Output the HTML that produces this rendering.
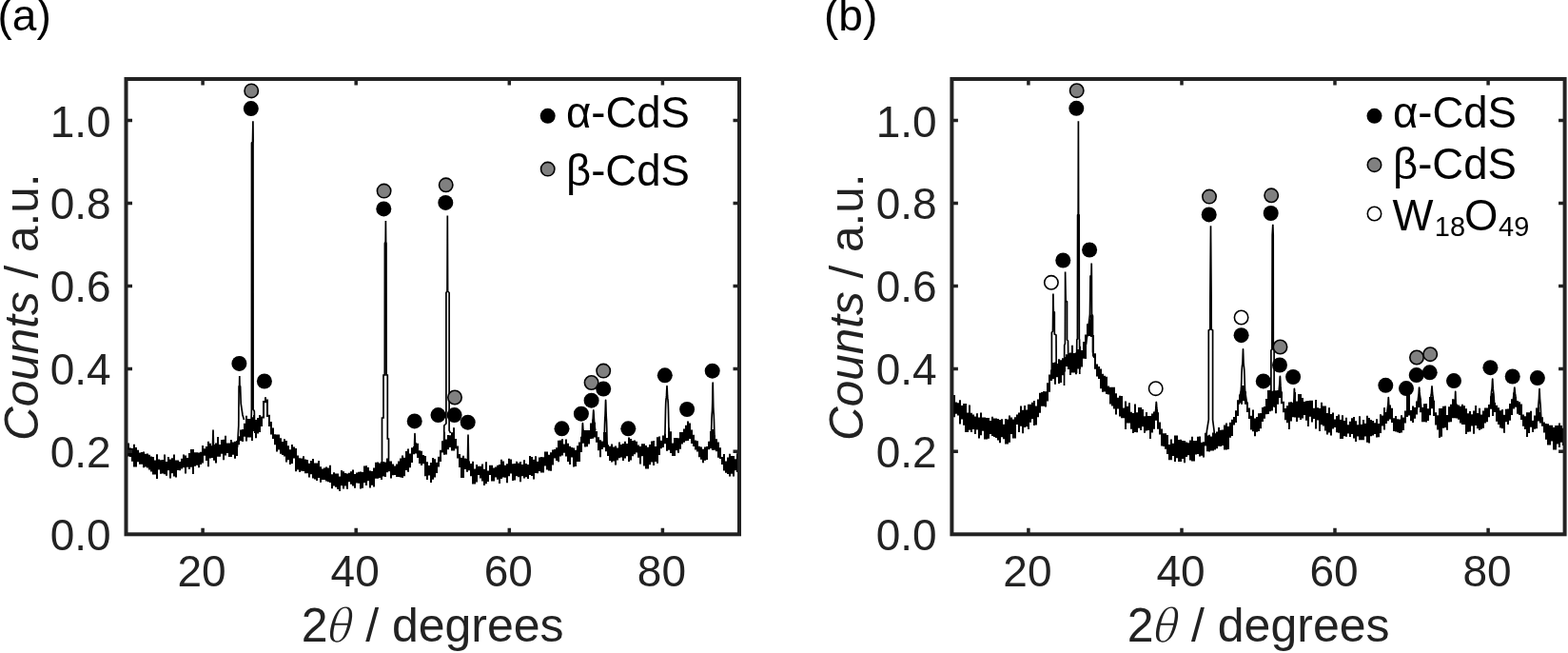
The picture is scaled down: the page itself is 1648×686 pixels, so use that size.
<!DOCTYPE html>
<html><head><meta charset="utf-8"><title>XRD patterns</title>
<style>html,body{margin:0;padding:0;background:#fff;overflow:hidden}svg{display:block}</style>
</head><body>
<svg width="1648" height="686" viewBox="0 0 1648 686">
<rect width="100%" height="100%" fill="#fff"/>
<style>.tk{font-family:"Liberation Sans",Arial,sans-serif;font-size:46px;fill:#222222}.lb{font-family:"Liberation Sans",Arial,sans-serif;font-size:50px;fill:#222222}.ly{font-family:"Liberation Sans",Arial,sans-serif;font-size:49.5px;fill:#222222}.lg{font-family:"Liberation Sans",Arial,sans-serif;font-size:45.5px;fill:#000}.pl{font-family:"Liberation Sans",Arial,sans-serif;font-size:46px;fill:#000}</style>
<path d="M134.0 465.5h2v13.9h-2zM136.0 470.4h2v9.5h-2zM138.0 471.1h2v13.6h-2zM140.0 466.7h2v23.8h-2zM142.0 470.1h2v20.4h-2zM144.0 472.7h2v12.5h-2zM146.0 475.4h2v12.3h-2zM148.0 474.9h2v12.9h-2zM150.0 474.5h2v16.7h-2zM152.0 476.8h2v13.8h-2zM154.0 476.6h2v14.9h-2zM156.0 477.8h2v15.8h-2zM158.0 479.6h2v15.9h-2zM160.0 480.1h2v18.3h-2zM162.0 483.6h2v14.8h-2zM164.0 477.3h2v25.7h-2zM166.0 482.6h2v11.0h-2zM168.0 483.2h2v14.6h-2zM170.0 483.1h2v14.5h-2zM172.0 477.4h2v20.8h-2zM174.0 484.9h2v14.8h-2zM176.0 480.0h2v14.3h-2zM178.0 482.6h2v20.0h-2zM180.0 481.3h2v15.9h-2zM182.0 477.5h2v23.1h-2zM184.0 483.6h2v18.0h-2zM186.0 483.5h2v10.4h-2zM188.0 484.9h2v9.3h-2zM190.0 481.8h2v10.7h-2zM192.0 477.4h2v13.9h-2zM194.0 478.6h2v18.9h-2zM196.0 480.9h2v9.9h-2zM198.0 476.0h2v17.0h-2zM200.0 471.9h2v18.8h-2zM202.0 471.9h2v26.2h-2zM204.0 475.2h2v14.5h-2zM206.0 475.2h2v13.5h-2zM208.0 475.4h2v15.9h-2zM210.0 474.7h2v13.2h-2zM212.0 467.9h2v18.5h-2zM214.0 471.2h2v7.5h-2zM216.0 469.0h2v15.1h-2zM218.0 463.7h2v26.6h-2zM220.0 465.8h2v15.8h-2zM222.0 468.3h2v12.8h-2zM224.0 466.9h2v16.8h-2zM226.0 465.4h2v21.0h-2zM228.0 459.1h2v20.7h-2zM230.0 467.0h2v12.7h-2zM232.0 462.0h2v14.8h-2zM234.0 461.8h2v21.4h-2zM236.0 457.7h2v20.8h-2zM238.0 465.5h2v10.6h-2zM240.0 465.6h2v14.5h-2zM242.0 462.1h2v17.9h-2zM244.0 464.6h2v13.1h-2zM246.0 463.7h2v18.1h-2zM248.0 462.9h2v16.1h-2zM250.0 458.2h2v9.0h-2zM252.0 451.5h2v11.8h-2zM254.0 451.0h2v12.9h-2zM256.0 444.8h2v13.9h-2zM258.0 436.8h2v26.7h-2zM260.0 440.0h2v19.4h-2zM262.0 439.9h2v19.6h-2zM264.0 438.2h2v24.8h-2zM266.0 436.0h2v17.1h-2zM268.0 440.9h2v19.3h-2zM270.0 439.0h2v16.5h-2zM272.0 435.9h2v18.0h-2zM274.0 437.4h2v10.5h-2zM276.0 421.0h2v18.4h-2zM278.0 417.2h2v6.1h-2zM280.0 419.4h2v18.7h-2zM282.0 435.7h2v12.2h-2zM284.0 443.0h2v13.5h-2zM286.0 449.5h2v11.5h-2zM288.0 456.3h2v11.0h-2zM290.0 456.6h2v17.8h-2zM292.0 456.6h2v15.8h-2zM294.0 460.2h2v16.5h-2zM296.0 464.1h2v13.8h-2zM298.0 461.2h2v18.4h-2zM300.0 462.9h2v22.6h-2zM302.0 468.3h2v15.0h-2zM304.0 472.3h2v15.7h-2zM306.0 467.1h2v20.0h-2zM308.0 469.6h2v12.0h-2zM310.0 471.1h2v24.2h-2zM312.0 478.5h2v15.0h-2zM314.0 481.3h2v14.8h-2zM316.0 481.4h2v13.4h-2zM318.0 479.3h2v15.7h-2zM320.0 482.5h2v14.7h-2zM322.0 482.9h2v14.3h-2zM324.0 486.7h2v14.7h-2zM326.0 483.9h2v14.4h-2zM328.0 482.1h2v20.3h-2zM330.0 486.4h2v17.2h-2zM332.0 486.6h2v18.4h-2zM334.0 484.1h2v17.8h-2zM336.0 490.3h2v16.5h-2zM338.0 492.4h2v11.7h-2zM340.0 491.4h2v12.6h-2zM342.0 490.4h2v15.2h-2zM344.0 491.4h2v14.8h-2zM346.0 488.7h2v18.2h-2zM348.0 498.3h2v15.0h-2zM350.0 496.3h2v14.3h-2zM352.0 497.5h2v14.2h-2zM354.0 497.5h2v16.4h-2zM356.0 500.5h2v15.4h-2zM358.0 494.1h2v16.2h-2zM360.0 495.3h2v18.1h-2zM362.0 497.0h2v13.6h-2zM364.0 497.6h2v16.1h-2zM366.0 496.7h2v9.5h-2zM368.0 495.2h2v13.6h-2zM370.0 493.5h2v17.1h-2zM372.0 497.9h2v14.9h-2zM374.0 496.4h2v11.2h-2zM376.0 495.7h2v12.0h-2zM378.0 495.6h2v17.8h-2zM380.0 496.1h2v16.6h-2zM382.0 489.5h2v17.7h-2zM384.0 489.3h2v20.8h-2zM386.0 491.0h2v14.3h-2zM388.0 494.5h2v17.9h-2zM390.0 494.9h2v14.8h-2zM392.0 491.6h2v19.9h-2zM394.0 485.8h2v16.9h-2zM396.0 485.5h2v17.3h-2zM398.0 486.4h2v15.5h-2zM400.0 484.9h2v19.0h-2zM402.0 484.9h2v15.7h-2zM404.0 485.5h2v15.6h-2zM406.0 481.5h2v14.7h-2zM408.0 484.4h2v10.9h-2zM410.0 484.4h2v18.2h-2zM412.0 487.5h2v11.7h-2zM414.0 489.4h2v9.7h-2zM416.0 487.6h2v13.5h-2zM418.0 484.5h2v16.6h-2zM420.0 481.6h2v20.0h-2zM422.0 478.5h2v23.6h-2zM424.0 480.7h2v19.5h-2zM426.0 474.1h2v19.9h-2zM428.0 471.4h2v24.4h-2zM430.0 476.6h2v14.6h-2zM432.0 470.3h2v15.8h-2zM434.0 469.1h2v8.1h-2zM436.0 465.3h2v11.1h-2zM438.0 465.8h2v15.1h-2zM440.0 473.2h2v13.7h-2zM442.0 473.7h2v15.3h-2zM444.0 477.9h2v9.4h-2zM446.0 479.1h2v21.2h-2zM448.0 485.3h2v18.8h-2zM450.0 489.1h2v10.5h-2zM452.0 486.0h2v21.1h-2zM454.0 481.0h2v22.7h-2zM456.0 482.2h2v19.3h-2zM458.0 485.7h2v11.3h-2zM460.0 479.8h2v10.7h-2zM462.0 472.7h2v12.2h-2zM464.0 463.2h2v12.4h-2zM466.0 453.8h2v23.9h-2zM468.0 461.4h2v16.2h-2zM470.0 457.0h2v15.2h-2zM472.0 457.3h2v12.6h-2zM474.0 454.3h2v19.3h-2zM476.0 449.2h2v24.3h-2zM478.0 461.1h2v10.3h-2zM480.0 468.5h2v12.9h-2zM482.0 476.9h2v14.2h-2zM484.0 480.8h2v21.2h-2zM486.0 478.8h2v23.3h-2zM488.0 481.4h2v11.7h-2zM490.0 482.0h2v13.8h-2zM492.0 484.5h2v9.7h-2zM494.0 486.9h2v13.4h-2zM496.0 484.7h2v23.8h-2zM498.0 492.4h2v16.1h-2zM500.0 488.0h2v18.6h-2zM502.0 489.7h2v9.4h-2zM504.0 489.7h2v12.7h-2zM506.0 487.5h2v18.1h-2zM508.0 492.8h2v17.3h-2zM510.0 485.3h2v23.0h-2zM512.0 494.4h2v11.7h-2zM514.0 488.8h2v10.2h-2zM516.0 488.8h2v16.8h-2zM518.0 491.5h2v13.9h-2zM520.0 490.5h2v10.9h-2zM522.0 488.7h2v15.1h-2zM524.0 488.1h2v19.9h-2zM526.0 482.8h2v20.1h-2zM528.0 484.6h2v16.8h-2zM530.0 488.8h2v12.9h-2zM532.0 487.2h2v20.0h-2zM534.0 481.7h2v18.5h-2zM536.0 482.4h2v15.1h-2zM538.0 487.3h2v17.8h-2zM540.0 486.9h2v17.6h-2zM542.0 484.8h2v15.4h-2zM544.0 486.4h2v14.9h-2zM546.0 485.1h2v21.2h-2zM548.0 488.1h2v12.1h-2zM550.0 483.2h2v19.2h-2zM552.0 486.9h2v14.3h-2zM554.0 488.1h2v14.8h-2zM556.0 479.1h2v19.9h-2zM558.0 480.1h2v20.0h-2zM560.0 482.7h2v20.8h-2zM562.0 479.2h2v17.8h-2zM564.0 484.7h2v12.5h-2zM566.0 480.4h2v14.6h-2zM568.0 479.9h2v16.7h-2zM570.0 480.3h2v16.3h-2zM572.0 474.5h2v15.1h-2zM574.0 474.5h2v18.9h-2zM576.0 477.7h2v16.8h-2zM578.0 475.2h2v19.6h-2zM580.0 472.5h2v16.1h-2zM582.0 472.0h2v9.5h-2zM584.0 470.3h2v13.8h-2zM586.0 462.7h2v22.6h-2zM588.0 462.5h2v17.0h-2zM590.0 461.2h2v17.3h-2zM592.0 466.5h2v9.3h-2zM594.0 461.4h2v18.2h-2zM596.0 465.8h2v19.1h-2zM598.0 468.7h2v19.3h-2zM600.0 470.0h2v10.6h-2zM602.0 470.4h2v20.1h-2zM604.0 472.8h2v17.1h-2zM606.0 468.3h2v16.6h-2zM608.0 464.4h2v20.5h-2zM610.0 458.8h2v16.3h-2zM612.0 451.4h2v14.3h-2zM614.0 452.1h2v17.3h-2zM616.0 452.0h2v17.2h-2zM618.0 452.1h2v14.3h-2zM620.0 444.4h2v16.7h-2zM622.0 440.8h2v19.9h-2zM624.0 443.8h2v15.8h-2zM626.0 452.9h2v11.8h-2zM628.0 459.2h2v14.0h-2zM630.0 462.3h2v18.0h-2zM632.0 463.5h2v8.5h-2zM634.0 453.9h2v16.1h-2zM636.0 453.9h2v20.4h-2zM638.0 467.3h2v11.8h-2zM640.0 468.7h2v15.3h-2zM642.0 466.6h2v18.9h-2zM644.0 469.6h2v14.9h-2zM646.0 468.6h2v20.0h-2zM648.0 470.4h2v13.0h-2zM650.0 464.5h2v16.8h-2zM652.0 466.9h2v13.7h-2zM654.0 466.0h2v18.0h-2zM656.0 463.8h2v17.7h-2zM658.0 465.9h2v13.3h-2zM660.0 459.4h2v25.6h-2zM662.0 461.1h2v22.3h-2zM664.0 462.9h2v16.4h-2zM666.0 462.4h2v14.9h-2zM668.0 463.8h2v11.8h-2zM670.0 467.5h2v13.3h-2zM672.0 468.9h2v18.6h-2zM674.0 466.2h2v13.0h-2zM676.0 466.2h2v23.3h-2zM678.0 468.1h2v24.3h-2zM680.0 469.8h2v22.6h-2zM682.0 467.1h2v21.2h-2zM684.0 463.4h2v22.2h-2zM686.0 462.9h2v26.1h-2zM688.0 469.0h2v16.0h-2zM690.0 459.3h2v27.5h-2zM692.0 458.4h2v19.7h-2zM694.0 462.7h2v8.5h-2zM696.0 457.4h2v12.7h-2zM698.0 455.7h2v10.5h-2zM700.0 459.9h2v13.9h-2zM702.0 449.5h2v23.2h-2zM704.0 453.3h2v22.8h-2zM706.0 465.6h2v13.5h-2zM708.0 460.0h2v18.9h-2zM710.0 460.0h2v13.3h-2zM712.0 460.2h2v15.5h-2zM714.0 454.0h2v17.8h-2zM716.0 454.0h2v12.6h-2zM718.0 450.6h2v14.2h-2zM720.0 446.8h2v16.4h-2zM722.0 442.5h2v20.4h-2zM724.0 444.4h2v16.7h-2zM726.0 451.4h2v14.7h-2zM728.0 456.8h2v12.3h-2zM730.0 462.6h2v9.9h-2zM732.0 463.2h2v11.2h-2zM734.0 468.8h2v11.5h-2zM736.0 469.5h2v13.3h-2zM738.0 471.7h2v14.5h-2zM740.0 469.6h2v14.1h-2zM742.0 469.1h2v14.0h-2zM744.0 463.7h2v8.6h-2zM746.0 452.9h2v18.4h-2zM748.0 451.0h2v22.1h-2zM750.0 457.3h2v15.4h-2zM752.0 461.2h2v13.0h-2zM754.0 464.5h2v16.2h-2zM756.0 470.2h2v11.7h-2zM758.0 479.9h2v8.1h-2zM760.0 476.9h2v17.5h-2zM762.0 484.4h2v12.4h-2zM764.0 480.5h2v17.5h-2zM766.0 476.7h2v23.8h-2zM768.0 479.1h2v18.6h-2zM770.0 479.1h2v21.3h-2zM772.0 482.3h2v12.0h-2zM774.0 476.2h2v19.9h-2z" fill="#000"/>
<path d="M223.25 474.6L223.50 470.4L223.75 459.6L224.00 452.0L224.25 459.4L224.50 470.1L224.75 474.1M435.25 474.5L435.50 470.8L435.75 461.8L436.00 455.5L436.25 461.1L436.50 469.4L436.75 472.4M491.25 488.2L491.50 482.7L491.75 467.6L492.00 457.2L492.25 468.4L492.50 484.4L492.75 490.8M611.00 465.7L611.25 463.5L611.50 461.1L611.75 458.0L612.00 452.8L612.25 446.4L612.40 444.6L612.50 445.0L612.75 449.5L613.00 453.7L613.25 455.9L613.50 457.2L613.75 458.4L614.00 459.3M622.00 449.1L622.25 447.9L622.50 446.5L622.75 444.8L623.00 442.6L623.25 439.0L623.50 434.2L623.75 431.1L623.80 431.0L624.00 432.7L624.25 437.6L624.50 442.0L624.75 444.8L625.00 446.9L625.25 448.9L625.50 450.7L625.75 452.3M635.00 465.8L635.25 458.5L635.50 447.1L635.75 440.3L636.00 436.8L636.25 430.0L636.50 421.4L636.60 420.3L636.75 422.9L637.00 432.3L637.25 438.4L637.50 442.4L637.75 450.6L638.00 462.5L638.25 468.4M697.00 464.1L697.25 463.5L697.50 462.9L697.75 462.3L698.00 461.7L698.25 461.2L698.50 460.6L698.75 459.1L699.00 453.4L699.25 442.0L699.50 430.3L699.75 422.9L700.00 419.5L700.25 417.9L700.50 415.4L700.75 409.6L701.00 405.7L701.25 409.8L701.50 415.7L701.75 418.4L702.00 420.1L702.25 423.7L702.50 431.3L702.75 443.1L703.00 454.6L703.25 460.4L703.50 462.0L703.75 462.8L704.00 463.6L704.25 464.4L704.50 465.2L704.75 466.0L705.00 466.8M745.50 467.2L745.75 466.5L746.00 465.8L746.25 465.0L746.50 464.2L746.75 463.3L747.00 462.5L747.25 461.3L747.50 457.6L747.75 448.6L748.00 439.6L748.25 434.6L748.50 431.5L748.75 423.8L749.00 408.8L749.20 402.1L749.25 402.6L749.50 414.9L749.75 427.7L750.00 432.5L750.25 435.8L750.50 442.3L750.75 452.0L751.00 459.0L751.25 461.0L751.50 461.8L751.75 462.7L752.00 463.6L752.25 464.5L752.50 465.4L752.75 466.4L753.00 467.2" fill="none" stroke="#000" stroke-width="1.7" stroke-linejoin="round"/>
<path d="M1002.0 415.1h2v23.2h-2zM1004.0 422.4h2v12.3h-2zM1006.0 423.3h2v13.1h-2zM1008.0 420.2h2v25.2h-2zM1010.0 426.1h2v14.4h-2zM1012.0 424.1h2v22.7h-2zM1014.0 424.1h2v30.0h-2zM1016.0 433.6h2v20.5h-2zM1018.0 425.5h2v26.3h-2zM1020.0 433.8h2v20.3h-2zM1022.0 435.6h2v15.5h-2zM1024.0 437.5h2v18.5h-2zM1026.0 434.3h2v17.2h-2zM1028.0 438.4h2v22.2h-2zM1030.0 433.4h2v23.9h-2zM1032.0 438.4h2v14.3h-2zM1034.0 438.4h2v23.1h-2zM1036.0 439.0h2v22.5h-2zM1038.0 439.0h2v21.7h-2zM1040.0 442.1h2v14.0h-2zM1042.0 437.8h2v20.1h-2zM1044.0 439.6h2v19.4h-2zM1046.0 439.6h2v20.3h-2zM1048.0 440.1h2v22.4h-2zM1050.0 441.0h2v24.2h-2zM1052.0 440.2h2v19.1h-2zM1054.0 445.7h2v15.5h-2zM1056.0 440.0h2v26.6h-2zM1058.0 440.5h2v26.1h-2zM1060.0 436.6h2v28.1h-2zM1062.0 438.4h2v17.7h-2zM1064.0 440.5h2v19.9h-2zM1066.0 438.2h2v22.3h-2zM1068.0 435.4h2v10.6h-2zM1070.0 433.6h2v20.5h-2zM1072.0 426.6h2v21.1h-2zM1074.0 430.8h2v24.4h-2zM1076.0 426.1h2v22.9h-2zM1078.0 430.4h2v17.8h-2zM1080.0 424.7h2v26.2h-2zM1082.0 424.7h2v19.0h-2zM1084.0 422.7h2v17.6h-2zM1086.0 421.0h2v26.1h-2zM1088.0 426.4h2v20.1h-2zM1090.0 419.6h2v18.6h-2zM1092.0 412.7h2v21.0h-2zM1094.0 411.9h2v14.9h-2zM1096.0 411.1h2v15.7h-2zM1098.0 411.3h2v16.2h-2zM1100.0 402.3h2v19.1h-2zM1102.0 393.6h2v18.1h-2zM1104.0 388.6h2v11.4h-2zM1106.0 380.9h2v17.4h-2zM1108.0 380.4h2v23.4h-2zM1110.0 381.9h2v14.4h-2zM1112.0 377.2h2v25.9h-2zM1114.0 378.3h2v23.8h-2zM1116.0 376.2h2v18.0h-2zM1118.0 375.0h2v15.6h-2zM1120.0 372.2h2v12.8h-2zM1122.0 370.9h2v17.0h-2zM1124.0 370.5h2v23.6h-2zM1126.0 362.7h2v28.9h-2zM1128.0 370.9h2v20.6h-2zM1130.0 370.5h2v22.8h-2zM1132.0 366.9h2v20.5h-2zM1134.0 363.8h2v24.0h-2zM1136.0 368.1h2v17.4h-2zM1138.0 359.1h2v17.7h-2zM1140.0 351.4h2v25.5h-2zM1142.0 340.2h2v13.1h-2zM1144.0 335.4h2v17.5h-2zM1146.0 330.4h2v23.5h-2zM1148.0 351.9h2v22.5h-2zM1150.0 371.3h2v16.4h-2zM1152.0 382.6h2v13.0h-2zM1154.0 384.9h2v13.2h-2zM1156.0 387.4h2v20.9h-2zM1158.0 392.7h2v19.0h-2zM1160.0 394.8h2v16.7h-2zM1162.0 395.7h2v18.3h-2zM1164.0 405.6h2v8.8h-2zM1166.0 406.7h2v17.8h-2zM1168.0 406.7h2v19.7h-2zM1170.0 406.7h2v22.7h-2zM1172.0 413.2h2v22.4h-2zM1174.0 417.7h2v11.9h-2zM1176.0 415.8h2v21.7h-2zM1178.0 415.9h2v23.4h-2zM1180.0 428.5h2v10.8h-2zM1182.0 421.5h2v29.6h-2zM1184.0 426.7h2v17.9h-2zM1186.0 423.2h2v21.4h-2zM1188.0 432.8h2v17.9h-2zM1190.0 434.0h2v21.0h-2zM1192.0 424.6h2v29.5h-2zM1194.0 433.3h2v20.9h-2zM1196.0 428.1h2v21.7h-2zM1198.0 428.1h2v23.8h-2zM1200.0 429.9h2v18.4h-2zM1202.0 437.3h2v17.4h-2zM1204.0 433.0h2v19.6h-2zM1206.0 437.1h2v14.8h-2zM1208.0 437.1h2v23.9h-2zM1210.0 434.4h2v20.0h-2zM1212.0 432.4h2v18.3h-2zM1214.0 427.6h2v14.1h-2zM1216.0 433.2h2v17.6h-2zM1218.0 443.5h2v13.1h-2zM1220.0 450.6h2v17.9h-2zM1222.0 455.3h2v13.6h-2zM1224.0 455.3h2v16.5h-2zM1226.0 456.9h2v20.1h-2zM1228.0 467.0h2v16.3h-2zM1230.0 461.5h2v21.8h-2zM1232.0 465.7h2v13.2h-2zM1234.0 457.4h2v27.5h-2zM1236.0 457.4h2v23.8h-2zM1238.0 461.9h2v23.2h-2zM1240.0 461.8h2v23.3h-2zM1242.0 462.9h2v19.1h-2zM1244.0 462.9h2v23.3h-2zM1246.0 464.5h2v15.6h-2zM1248.0 465.2h2v13.1h-2zM1250.0 462.6h2v20.9h-2zM1252.0 458.8h2v25.8h-2zM1254.0 462.9h2v21.7h-2zM1256.0 462.9h2v14.6h-2zM1258.0 458.7h2v18.3h-2zM1260.0 458.6h2v20.9h-2zM1262.0 464.8h2v13.9h-2zM1264.0 464.3h2v16.1h-2zM1266.0 454.8h2v13.7h-2zM1268.0 457.5h2v16.8h-2zM1270.0 456.8h2v17.6h-2zM1272.0 458.6h2v14.9h-2zM1274.0 454.6h2v19.0h-2zM1276.0 455.3h2v17.3h-2zM1278.0 453.4h2v17.9h-2zM1280.0 449.0h2v19.7h-2zM1282.0 451.8h2v17.2h-2zM1284.0 451.6h2v16.5h-2zM1286.0 446.5h2v25.9h-2zM1288.0 444.4h2v28.1h-2zM1290.0 447.9h2v24.0h-2zM1292.0 443.8h2v16.0h-2zM1294.0 440.7h2v17.2h-2zM1296.0 437.9h2v8.5h-2zM1298.0 431.3h2v12.7h-2zM1300.0 420.3h2v16.7h-2zM1302.0 414.5h2v8.9h-2zM1304.0 404.9h2v19.8h-2zM1306.0 404.9h2v16.4h-2zM1308.0 411.3h2v13.4h-2zM1310.0 422.5h2v10.4h-2zM1312.0 428.4h2v11.5h-2zM1314.0 436.7h2v14.9h-2zM1316.0 430.4h2v22.9h-2zM1318.0 439.6h2v18.6h-2zM1320.0 438.0h2v15.8h-2zM1322.0 434.2h2v18.9h-2zM1324.0 433.9h2v16.3h-2zM1326.0 428.1h2v15.0h-2zM1328.0 427.0h2v12.8h-2zM1330.0 419.0h2v16.3h-2zM1332.0 409.9h2v25.0h-2zM1334.0 409.8h2v22.5h-2zM1336.0 410.8h2v20.8h-2zM1338.0 410.2h2v17.0h-2zM1340.0 410.2h2v24.1h-2zM1342.0 410.0h2v14.7h-2zM1344.0 404.8h2v13.1h-2zM1346.0 411.4h2v12.9h-2zM1348.0 421.8h2v11.5h-2zM1350.0 429.0h2v12.3h-2zM1352.0 426.3h2v18.0h-2zM1354.0 422.4h2v28.5h-2zM1356.0 422.2h2v20.2h-2zM1358.0 423.1h2v15.1h-2zM1360.0 412.1h2v26.5h-2zM1362.0 421.4h2v21.5h-2zM1364.0 414.0h2v24.8h-2zM1366.0 414.0h2v27.0h-2zM1368.0 418.1h2v21.5h-2zM1370.0 421.9h2v14.2h-2zM1372.0 421.3h2v20.4h-2zM1374.0 421.1h2v26.8h-2zM1376.0 420.8h2v17.0h-2zM1378.0 420.8h2v22.8h-2zM1380.0 428.7h2v11.2h-2zM1382.0 420.0h2v30.5h-2zM1384.0 428.2h2v13.3h-2zM1386.0 428.9h2v24.0h-2zM1388.0 422.8h2v23.5h-2zM1390.0 426.6h2v21.0h-2zM1392.0 426.6h2v25.8h-2zM1394.0 434.1h2v22.4h-2zM1396.0 428.3h2v26.1h-2zM1398.0 434.9h2v22.5h-2zM1400.0 433.4h2v17.0h-2zM1402.0 440.6h2v8.3h-2zM1404.0 437.0h2v17.3h-2zM1406.0 435.4h2v19.4h-2zM1408.0 440.7h2v20.4h-2zM1410.0 436.2h2v24.9h-2zM1412.0 442.1h2v16.1h-2zM1414.0 438.8h2v19.9h-2zM1416.0 446.3h2v9.1h-2zM1418.0 442.8h2v16.3h-2zM1420.0 439.2h2v16.7h-2zM1422.0 437.9h2v22.6h-2zM1424.0 442.3h2v21.6h-2zM1426.0 446.2h2v12.2h-2zM1428.0 437.3h2v24.9h-2zM1430.0 445.7h2v16.5h-2zM1432.0 441.0h2v21.3h-2zM1434.0 444.8h2v13.8h-2zM1436.0 436.7h2v28.0h-2zM1438.0 438.9h2v26.7h-2zM1440.0 440.9h2v17.4h-2zM1442.0 442.1h2v15.4h-2zM1444.0 444.2h2v11.7h-2zM1446.0 440.2h2v19.4h-2zM1448.0 444.9h2v14.3h-2zM1450.0 435.2h2v19.7h-2zM1452.0 436.5h2v11.0h-2zM1454.0 428.2h2v23.4h-2zM1456.0 433.0h2v12.1h-2zM1458.0 424.5h2v17.8h-2zM1460.0 425.6h2v15.0h-2zM1462.0 428.8h2v15.2h-2zM1464.0 439.3h2v13.6h-2zM1466.0 437.1h2v16.5h-2zM1468.0 440.3h2v13.9h-2zM1470.0 440.5h2v14.6h-2zM1472.0 436.2h2v18.2h-2zM1474.0 438.6h2v13.4h-2zM1476.0 431.4h2v13.1h-2zM1478.0 415.1h2v22.9h-2zM1480.0 415.1h2v21.3h-2zM1482.0 431.1h2v11.2h-2zM1484.0 426.4h2v17.5h-2zM1486.0 428.1h2v11.6h-2zM1488.0 421.5h2v14.1h-2zM1490.0 414.5h2v13.5h-2zM1492.0 418.8h2v14.4h-2zM1494.0 428.1h2v15.1h-2zM1496.0 424.2h2v19.0h-2zM1498.0 424.0h2v19.5h-2zM1500.0 429.3h2v12.8h-2zM1502.0 417.0h2v19.3h-2zM1504.0 417.0h2v12.2h-2zM1506.0 420.8h2v16.2h-2zM1508.0 433.3h2v13.3h-2zM1510.0 436.3h2v15.2h-2zM1512.0 429.0h2v31.0h-2zM1514.0 429.0h2v29.7h-2zM1516.0 426.8h2v23.0h-2zM1518.0 426.4h2v22.8h-2zM1520.0 436.0h2v15.7h-2zM1522.0 427.2h2v16.2h-2zM1524.0 424.7h2v18.6h-2zM1526.0 419.3h2v20.0h-2zM1528.0 419.5h2v19.8h-2zM1530.0 424.5h2v14.9h-2zM1532.0 425.6h2v15.1h-2zM1534.0 426.7h2v17.8h-2zM1536.0 424.8h2v21.1h-2zM1538.0 426.2h2v19.7h-2zM1540.0 429.2h2v26.9h-2zM1542.0 434.3h2v19.4h-2zM1544.0 432.1h2v21.5h-2zM1546.0 435.3h2v12.3h-2zM1548.0 431.4h2v24.3h-2zM1550.0 426.1h2v21.0h-2zM1552.0 434.0h2v16.3h-2zM1554.0 428.8h2v23.2h-2zM1556.0 435.5h2v15.3h-2zM1558.0 431.6h2v18.2h-2zM1560.0 428.5h2v15.9h-2zM1562.0 428.5h2v14.8h-2zM1564.0 425.0h2v13.2h-2zM1566.0 416.2h2v13.5h-2zM1568.0 412.7h2v24.3h-2zM1570.0 423.1h2v10.0h-2zM1572.0 425.8h2v16.9h-2zM1574.0 428.2h2v17.9h-2zM1576.0 431.3h2v18.3h-2zM1578.0 430.3h2v19.9h-2zM1580.0 435.7h2v19.0h-2zM1582.0 429.7h2v13.5h-2zM1584.0 429.4h2v16.5h-2zM1586.0 424.1h2v17.7h-2zM1588.0 419.3h2v16.8h-2zM1590.0 412.5h2v16.9h-2zM1592.0 416.9h2v10.8h-2zM1594.0 421.0h2v13.7h-2zM1596.0 422.2h2v13.7h-2zM1598.0 424.5h2v16.4h-2zM1600.0 435.5h2v12.2h-2zM1602.0 437.2h2v13.7h-2zM1604.0 433.2h2v25.8h-2zM1606.0 433.2h2v21.9h-2zM1608.0 431.7h2v17.0h-2zM1610.0 441.7h2v12.4h-2zM1612.0 436.5h2v14.3h-2zM1614.0 428.6h2v21.6h-2zM1616.0 427.5h2v14.9h-2zM1618.0 433.1h2v11.3h-2zM1620.0 438.2h2v9.6h-2zM1622.0 443.4h2v11.2h-2zM1624.0 445.0h2v16.7h-2zM1626.0 445.3h2v22.2h-2zM1628.0 446.8h2v20.7h-2zM1630.0 446.8h2v16.8h-2zM1632.0 449.1h2v23.4h-2zM1634.0 447.1h2v25.5h-2zM1636.0 447.1h2v19.3h-2zM1638.0 444.5h2v25.5h-2zM1640.0 447.1h2v17.7h-2zM1642.0 449.7h2v18.4h-2z" fill="#000"/>
<path d="M1213.50 441.1L1213.75 439.0L1214.00 436.3L1214.25 433.9L1214.50 432.0L1214.75 429.9L1215.00 426.1L1215.25 422.5L1215.30 422.4L1215.50 424.1L1215.75 428.2L1216.00 430.5L1216.25 432.0L1216.50 434.0L1216.75 436.6L1217.00 439.1M1302.00 424.8L1302.25 423.0L1302.50 421.2L1302.75 419.5L1303.00 417.8L1303.25 416.2L1303.50 414.7L1303.75 413.1L1304.00 411.7L1304.25 410.3L1304.50 407.7L1304.75 401.5L1305.00 393.5L1305.25 387.5L1305.50 384.3L1305.75 382.7L1306.00 380.3L1306.25 372.9L1306.50 366.8L1306.75 373.3L1307.00 381.1L1307.25 383.8L1307.50 385.7L1307.75 388.9L1308.00 394.9L1308.25 402.9L1308.50 409.1L1308.75 411.9L1309.00 413.5L1309.25 415.1L1309.50 416.8L1309.75 418.5L1310.00 420.2L1310.25 421.9L1310.50 423.7L1310.75 425.3L1311.00 426.8M1344.00 413.0L1344.25 409.6L1344.50 406.6L1344.75 404.4L1345.00 401.1L1345.25 396.4L1345.40 395.4L1345.50 396.1L1345.75 401.3L1346.00 405.9L1346.25 408.9L1346.50 412.3L1346.75 416.1L1347.00 419.1M1359.00 430.7L1359.25 427.9L1359.50 425.0L1359.75 422.6L1360.00 418.6L1360.25 410.7L1360.40 408.3L1360.50 409.3L1360.75 416.6L1361.00 421.2L1361.25 423.2L1361.50 425.7L1361.75 428.3M1457.75 434.1L1458.00 431.7L1458.25 429.3L1458.50 427.7L1458.75 426.2L1459.00 422.3L1459.25 417.7L1459.30 417.5L1459.50 420.1L1459.75 425.1L1460.00 427.3L1460.25 428.8L1460.50 431.1L1460.75 433.8L1461.00 435.9M1478.75 433.3L1479.00 431.1L1479.25 429.3L1479.50 427.3L1479.75 423.1L1480.00 419.7L1480.25 422.7L1480.50 426.6L1480.75 428.2L1481.00 429.7L1481.25 431.5M1489.50 429.9L1489.75 427.1L1490.00 424.0L1490.25 420.9L1490.50 418.5L1490.75 416.7L1491.00 414.9L1491.25 411.6L1491.50 407.6L1491.60 407.1L1491.75 408.0L1492.00 411.9L1492.25 414.6L1492.50 416.0L1492.75 417.6L1493.00 419.9L1493.25 422.8L1493.50 425.9L1493.75 428.5M1502.75 428.0L1503.00 426.0L1503.25 423.3L1503.50 420.3L1503.75 417.8L1504.00 415.9L1504.25 414.5L1504.50 412.5L1504.75 408.5L1505.00 405.9L1505.25 408.6L1505.50 412.7L1505.75 414.8L1506.00 416.3L1506.25 418.4L1506.50 421.3L1506.75 424.7L1507.00 427.9L1507.25 430.7M1529.00 427.8L1529.25 423.7L1529.50 415.2L1529.70 411.4L1529.75 411.7L1530.00 419.3L1530.25 427.0L1530.50 429.7M1566.50 425.6L1566.75 422.7L1567.00 419.0L1567.25 415.2L1567.50 412.2L1567.75 410.2L1568.00 408.8L1568.25 405.8L1568.50 400.3L1568.70 398.0L1568.75 398.3L1569.00 403.2L1569.25 408.4L1569.50 410.8L1569.75 412.5L1570.00 415.1L1570.25 418.7L1570.50 422.7L1570.75 426.2L1571.00 428.7M1590.00 423.8L1590.25 421.4L1590.50 418.7L1590.75 416.4L1591.00 414.8L1591.25 413.2L1591.50 410.1L1591.75 407.2L1591.80 407.1L1592.00 408.4L1592.25 411.7L1592.50 413.7L1592.75 415.0L1593.00 417.0L1593.25 419.6L1593.50 422.5L1593.75 424.7M1616.00 438.8L1616.25 436.5L1616.50 432.5L1616.75 427.9L1617.00 424.1L1617.25 421.4L1617.50 418.2L1617.75 412.4L1618.00 408.6L1618.25 412.7L1618.50 418.8L1618.75 422.0L1619.00 424.8L1619.25 429.0L1619.50 434.0L1619.75 438.3L1620.00 440.7" fill="none" stroke="#000" stroke-width="1.7" stroke-linejoin="round"/>
<path d="M249.50 470.0L250.80 447.0L251.10 406.0L251.60 405.0L251.80 394.9L252.00 405.0L252.60 406.0L253.20 424.0L255.00 436.0L256.50 441.0M263.50 452.0L264.00 444.0L264.40 430.0L264.50 150.0L265.50 149.0L265.90 127.3L266.10 149.0L266.00 150.0L266.10 430.0L267.30 432.0L267.80 455.0M401.50 485.0L401.50 439.0L403.00 439.0L403.00 394.0L404.30 394.0L404.40 255.6L405.20 254.0L405.40 232.0L405.60 254.0L406.00 255.6L406.10 394.0L407.30 394.0L407.30 461.0L408.50 461.0L408.50 485.0M466.50 470.0L466.80 447.0L468.90 445.0L468.90 307.5L470.00 306.0L470.30 226.4L470.60 306.0L472.10 307.5L472.10 452.0L473.50 455.0M1104.50 398.0L1105.40 391.0L1105.40 349.3L1106.50 348.0L1106.90 308.6L1107.30 327.0L1108.30 328.0L1108.30 351.0L1110.00 352.0L1110.20 382.0M1118.50 405.0L1118.70 362.6L1119.40 361.0L1119.60 285.5L1120.20 316.0L1121.50 317.0L1121.50 357.0L1122.50 358.0L1122.70 372.0M1131.50 392.0L1131.80 357.0L1132.40 356.0L1132.60 226.0L1133.20 225.0L1133.40 127.3L1133.60 225.0L1134.20 226.0L1134.30 356.0L1134.60 357.0L1134.80 393.0M1141.50 362.0L1143.00 350.0L1144.30 340.0L1145.50 330.0L1146.00 290.0L1147.00 289.0L1147.20 276.6L1147.40 290.0L1147.50 330.0L1148.50 332.0L1148.50 370.0L1150.00 376.0M1267.50 464.0L1268.50 452.0L1270.30 441.0L1270.30 347.0L1271.80 346.0L1271.90 312.0L1272.50 237.2L1273.10 312.0L1273.20 346.0L1274.60 347.0L1274.60 441.0L1276.00 452.0L1277.00 464.0M1335.50 428.0L1335.90 422.0L1335.90 368.0L1336.90 367.0L1337.20 247.0L1337.80 235.9L1338.20 247.0L1338.30 367.0L1339.10 368.0L1339.10 424.0L1339.50 428.0" fill="none" stroke="#000" stroke-width="1.7" stroke-linejoin="miter" stroke-miterlimit="2"/>
<circle cx="251.4" cy="381.9" r="8" fill="#000"/>
<circle cx="264.2" cy="95.4" r="7.2" fill="#808080" stroke="#000" stroke-width="1.6"/>
<circle cx="263.8" cy="114.1" r="8" fill="#000"/>
<circle cx="277.9" cy="400.5" r="8" fill="#000"/>
<circle cx="403.6" cy="200.6" r="7.2" fill="#808080" stroke="#000" stroke-width="1.6"/>
<circle cx="403.3" cy="219.4" r="8" fill="#000"/>
<circle cx="435.7" cy="442.4" r="8" fill="#000"/>
<circle cx="460.5" cy="436.1" r="8" fill="#000"/>
<circle cx="468.7" cy="194.3" r="7.2" fill="#808080" stroke="#000" stroke-width="1.6"/>
<circle cx="468.3" cy="212.9" r="8" fill="#000"/>
<circle cx="478.0" cy="417.5" r="7.2" fill="#808080" stroke="#000" stroke-width="1.6"/>
<circle cx="477.6" cy="436.1" r="8" fill="#000"/>
<circle cx="491.7" cy="443.7" r="8" fill="#000"/>
<circle cx="590.5" cy="450.3" r="8" fill="#000"/>
<circle cx="610.9" cy="434.7" r="8" fill="#000"/>
<circle cx="621.6" cy="402.0" r="7.2" fill="#808080" stroke="#000" stroke-width="1.6"/>
<circle cx="621.6" cy="420.7" r="8" fill="#000"/>
<circle cx="634.2" cy="389.6" r="7.2" fill="#808080" stroke="#000" stroke-width="1.6"/>
<circle cx="634.2" cy="408.5" r="8" fill="#000"/>
<circle cx="660.3" cy="450.3" r="8" fill="#000"/>
<circle cx="698.8" cy="394.3" r="8" fill="#000"/>
<circle cx="722.1" cy="430.0" r="8" fill="#000"/>
<circle cx="748.7" cy="389.7" r="8" fill="#000"/>
<circle cx="1104.9" cy="296.8" r="7.2" fill="#fff" stroke="#000" stroke-width="1.6"/>
<circle cx="1117.3" cy="273.5" r="8" fill="#000"/>
<circle cx="1131.7" cy="95.2" r="7.2" fill="#808080" stroke="#000" stroke-width="1.6"/>
<circle cx="1131.3" cy="113.8" r="8" fill="#000"/>
<circle cx="1145.1" cy="262.5" r="8" fill="#000"/>
<circle cx="1214.7" cy="408.2" r="7.2" fill="#fff" stroke="#000" stroke-width="1.6"/>
<circle cx="1271.0" cy="206.6" r="7.2" fill="#808080" stroke="#000" stroke-width="1.6"/>
<circle cx="1270.7" cy="225.4" r="8" fill="#000"/>
<circle cx="1304.6" cy="333.5" r="7.2" fill="#fff" stroke="#000" stroke-width="1.6"/>
<circle cx="1304.6" cy="352.2" r="8" fill="#000"/>
<circle cx="1327.8" cy="400.4" r="8" fill="#000"/>
<circle cx="1345.5" cy="364.5" r="7.2" fill="#808080" stroke="#000" stroke-width="1.6"/>
<circle cx="1345.0" cy="383.5" r="8" fill="#000"/>
<circle cx="1359.1" cy="396.0" r="8" fill="#000"/>
<circle cx="1456.3" cy="404.8" r="8" fill="#000"/>
<circle cx="1478.0" cy="408.1" r="8" fill="#000"/>
<circle cx="1489.0" cy="375.5" r="7.2" fill="#808080" stroke="#000" stroke-width="1.6"/>
<circle cx="1488.7" cy="394.1" r="8" fill="#000"/>
<circle cx="1503.2" cy="372.2" r="7.2" fill="#808080" stroke="#000" stroke-width="1.6"/>
<circle cx="1502.7" cy="391.3" r="8" fill="#000"/>
<circle cx="1528.0" cy="400.1" r="8" fill="#000"/>
<circle cx="1566.4" cy="386.2" r="8" fill="#000"/>
<circle cx="1589.7" cy="395.5" r="8" fill="#000"/>
<circle cx="1615.9" cy="397.1" r="8" fill="#000"/>
<circle cx="1336.2" cy="205.3" r="7.2" fill="#808080" stroke="#000" stroke-width="1.6"/>
<circle cx="1335.7" cy="224.0" r="8" fill="#000"/>
<rect x="132.5" y="83.0" width="644.5" height="478.3" fill="none" stroke="#222222" stroke-width="4"/>
<path d="M213.1 561.3v-6.5M213.1 83.0v6.5" stroke="#222222" stroke-width="3.5"/>
<text x="212.1" y="616.3" text-anchor="middle" class="tk">20</text>
<path d="M374.2 561.3v-6.5M374.2 83.0v6.5" stroke="#222222" stroke-width="3.5"/>
<text x="373.2" y="616.3" text-anchor="middle" class="tk">40</text>
<path d="M535.3 561.3v-6.5M535.3 83.0v6.5" stroke="#222222" stroke-width="3.5"/>
<text x="534.3" y="616.3" text-anchor="middle" class="tk">60</text>
<path d="M696.4 561.3v-6.5M696.4 83.0v6.5" stroke="#222222" stroke-width="3.5"/>
<text x="695.4" y="616.3" text-anchor="middle" class="tk">80</text>
<text x="116.7" y="578.3" text-anchor="end" class="tk">0.0</text>
<path d="M132.5 474.3h6.5M777.0 474.3h-6.5" stroke="#222222" stroke-width="3.5"/>
<text x="116.7" y="491.3" text-anchor="end" class="tk">0.2</text>
<path d="M132.5 387.4h6.5M777.0 387.4h-6.5" stroke="#222222" stroke-width="3.5"/>
<text x="116.7" y="404.4" text-anchor="end" class="tk">0.4</text>
<path d="M132.5 300.4h6.5M777.0 300.4h-6.5" stroke="#222222" stroke-width="3.5"/>
<text x="116.7" y="317.4" text-anchor="end" class="tk">0.6</text>
<path d="M132.5 213.4h6.5M777.0 213.4h-6.5" stroke="#222222" stroke-width="3.5"/>
<text x="116.7" y="230.4" text-anchor="end" class="tk">0.8</text>
<path d="M132.5 126.5h6.5M777.0 126.5h-6.5" stroke="#222222" stroke-width="3.5"/>
<text x="116.7" y="143.5" text-anchor="end" class="tk">1.0</text>
<rect x="1000.4" y="83.0" width="644.2" height="478.3" fill="none" stroke="#222222" stroke-width="4"/>
<path d="M1080.9 561.3v-6.5M1080.9 83.0v6.5" stroke="#222222" stroke-width="3.5"/>
<text x="1079.9" y="616.3" text-anchor="middle" class="tk">20</text>
<path d="M1242.0 561.3v-6.5M1242.0 83.0v6.5" stroke="#222222" stroke-width="3.5"/>
<text x="1241.0" y="616.3" text-anchor="middle" class="tk">40</text>
<path d="M1403.0 561.3v-6.5M1403.0 83.0v6.5" stroke="#222222" stroke-width="3.5"/>
<text x="1402.0" y="616.3" text-anchor="middle" class="tk">60</text>
<path d="M1564.1 561.3v-6.5M1564.1 83.0v6.5" stroke="#222222" stroke-width="3.5"/>
<text x="1563.1" y="616.3" text-anchor="middle" class="tk">80</text>
<text x="984.6" y="578.3" text-anchor="end" class="tk">0.0</text>
<path d="M1000.4 474.3h6.5M1644.6 474.3h-6.5" stroke="#222222" stroke-width="3.5"/>
<text x="984.6" y="491.3" text-anchor="end" class="tk">0.2</text>
<path d="M1000.4 387.4h6.5M1644.6 387.4h-6.5" stroke="#222222" stroke-width="3.5"/>
<text x="984.6" y="404.4" text-anchor="end" class="tk">0.4</text>
<path d="M1000.4 300.4h6.5M1644.6 300.4h-6.5" stroke="#222222" stroke-width="3.5"/>
<text x="984.6" y="317.4" text-anchor="end" class="tk">0.6</text>
<path d="M1000.4 213.4h6.5M1644.6 213.4h-6.5" stroke="#222222" stroke-width="3.5"/>
<text x="984.6" y="230.4" text-anchor="end" class="tk">0.8</text>
<path d="M1000.4 126.5h6.5M1644.6 126.5h-6.5" stroke="#222222" stroke-width="3.5"/>
<text x="984.6" y="143.5" text-anchor="end" class="tk">1.0</text>
<text x="454.7" y="673.5" text-anchor="middle" class="lb">2<tspan dx="-3" font-family="Noto Serif CJK SC,Liberation Serif,serif" font-style="italic" font-size="45.5px">θ</tspan><tspan dx="3.5"> / degrees</tspan></text>
<text transform="translate(39.5,322.7) rotate(-90)" text-anchor="middle" class="ly"><tspan font-style="italic">Counts</tspan> / a.u.</text>
<text x="1322.6" y="673.5" text-anchor="middle" class="lb">2<tspan dx="-3" font-family="Noto Serif CJK SC,Liberation Serif,serif" font-style="italic" font-size="45.5px">θ</tspan><tspan dx="3.5"> / degrees</tspan></text>
<text transform="translate(907.4,322.7) rotate(-90)" text-anchor="middle" class="ly"><tspan font-style="italic">Counts</tspan> / a.u.</text>
<text x="-2.5" y="32.3" class="pl">(a)</text>
<text x="866" y="32.3" class="pl">(b)</text>
<circle cx="575.7" cy="121.8" r="8" fill="#000"/>
<text x="595" y="134" class="lg">α-CdS</text>
<circle cx="575.7" cy="177.6" r="7.2" fill="#808080" stroke="#000" stroke-width="1.6"/>
<text x="595" y="194.5" class="lg">β-CdS</text>
<circle cx="1444.5" cy="121.8" r="8" fill="#000"/>
<text x="1464" y="134" class="lg">α-CdS</text>
<circle cx="1444.5" cy="173.2" r="7.2" fill="#808080" stroke="#000" stroke-width="1.6"/>
<text x="1464" y="187.6" class="lg">β-CdS</text>
<circle cx="1444.5" cy="224.5" r="7.2" fill="#fff" stroke="#000" stroke-width="1.6"/>
<text x="1463.5" y="242.2" class="lg">W<tspan x="1507.8" y="247.5" font-size="29px">18</tspan><tspan x="1538.9" y="242.2">O</tspan><tspan x="1575" y="247.5" font-size="29px">49</tspan></text>
</svg>
</body></html>
